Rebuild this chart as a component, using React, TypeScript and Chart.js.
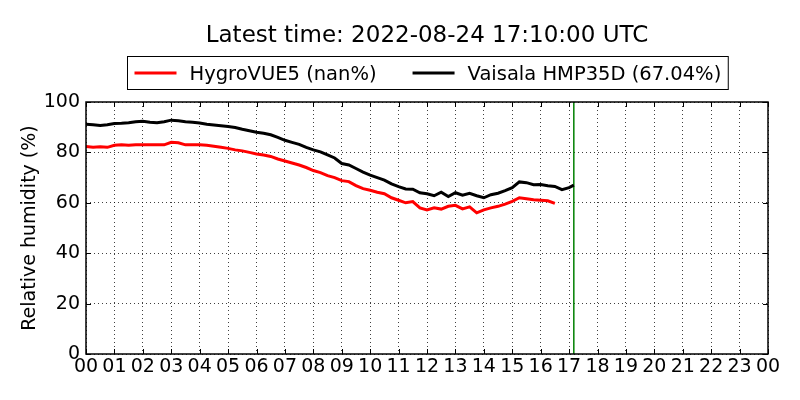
import { useEffect, useRef } from "react";
import { Chart, registerables } from "chart.js";

Chart.register(...registerables);

const TITLE = "Latest time: 2022-08-24 17:10:00 UTC";
const FONT = "'DejaVu Sans', 'Bitstream Vera Sans', sans-serif";

// x axis tick labels (hours of day)
const hourLabels = [
  "00", "01", "02", "03", "04", "05", "06", "07", "08", "09", "10", "11",
  "12", "13", "14", "15", "16", "17", "18", "19", "20", "21", "22", "23", "00",
];
const yTicks = [0, 20, 40, 60, 80, 100];

// sample times in hours (UTC)
const sampleHours = [
  0, 0.25, 0.5, 0.75, 1, 1.25, 1.5, 1.75, 2, 2.25, 2.5, 2.75,
  3, 3.25, 3.5, 3.75, 4, 4.25, 4.5, 4.75, 5, 5.25, 5.5, 5.75,
  6, 6.25, 6.5, 6.75, 7, 7.25, 7.5, 7.75, 8, 8.25, 8.5, 8.75,
  9, 9.25, 9.5, 9.75, 10, 10.25, 10.5, 10.75, 11, 11.25, 11.5, 11.75,
  12, 12.25, 12.5, 12.75, 13, 13.25, 13.5, 13.75, 14, 14.25, 14.5, 14.75,
  15, 15.25, 15.5, 15.75, 16, 16.25, 16.5, 16.75, 17, 17.1667,
];

// HygroVUE5 relative humidity (%) - stops at 16:30
const hygroRH = [
  82.3, 82.0, 82.2, 82.0, 82.8, 83.0, 82.8, 83.0, 83.0, 83.0, 83.0, 83.0,
  84.0, 83.8, 83.0, 83.0, 83.0, 82.8, 82.4, 82.0, 81.6, 81.0, 80.6, 80.0,
  79.4, 79.0, 78.4, 77.4, 76.6, 75.8, 75.0, 74.0, 72.8, 72.0, 70.8, 70.0,
  68.8, 68.4, 66.8, 65.6, 65.0, 64.2, 63.6, 62.0, 61.0, 60.0, 60.5, 58.0,
  57.2, 58.0, 57.5, 58.6, 59.0, 57.6, 58.4, 56.0, 57.2, 58.0, 58.6, 59.5,
  60.6, 62.0, 61.6, 61.2, 61.0, 60.8, 59.8,
];

// Vaisala HMP35D relative humidity (%)
const vaisalaRH = [
  91.2, 91.0, 90.7, 91.0, 91.5, 91.6, 91.8, 92.2, 92.4, 92.0, 91.8, 92.2,
  92.8, 92.6, 92.2, 92.0, 91.7, 91.2, 90.9, 90.6, 90.3, 89.9, 89.2, 88.6,
  88.0, 87.6, 87.0, 86.0, 84.8, 84.0, 83.2, 82.0, 81.0, 80.2, 79.0, 77.8,
  75.6, 75.0, 73.6, 72.2, 71.0, 70.0, 69.0, 67.5, 66.4, 65.5, 65.4, 64.0,
  63.6, 62.8, 64.2, 62.5, 64.0, 63.0, 63.8, 62.8, 62.0, 63.2, 63.8, 64.8,
  66.0, 68.3, 68.0, 67.2, 67.3, 66.8, 66.5, 65.2, 66.0, 67.0,
];

const latestHour = 17 + 10 / 60;

const seriesNames = ["HygroVUE5 (nan%)", "Vaisala HMP35D (67.04%)"];
const seriesColors = ["#ff0000", "#000000"];

const decorPlugin = {
  id: "decor",
  afterDraw(chart: any) {
    const { ctx, chartArea: a, scales } = chart;
    ctx.save();

    // inward ticks
    ctx.strokeStyle = "#000";
    ctx.lineWidth = 1;
    hourLabels.forEach((_, h) => {
      const x = Math.round(scales.x.getPixelForValue(h)) + 0.5;
      ctx.beginPath();
      ctx.moveTo(x, a.bottom);
      ctx.lineTo(x, a.bottom - 5);
      ctx.moveTo(x, a.top);
      ctx.lineTo(x, a.top + 5);
      ctx.stroke();
    });
    yTicks.forEach((v) => {
      const y = Math.round(scales.y.getPixelForValue(v)) + 0.5;
      ctx.beginPath();
      ctx.moveTo(a.left, y);
      ctx.lineTo(a.left + 5, y);
      ctx.moveTo(a.right, y);
      ctx.lineTo(a.right - 5, y);
      ctx.stroke();
    });

    // frame
    ctx.lineWidth = 1.5;
    ctx.strokeRect(a.left, a.top, a.right - a.left, a.bottom - a.top);

    // title
    const cx = (a.left + a.right) / 2;
    ctx.fillStyle = "#000";
    ctx.font = `23px ${FONT}`;
    ctx.textAlign = "center";
    ctx.textBaseline = "alphabetic";
    ctx.fillText(TITLE, cx, 42);

    // legend with border
    ctx.font = `19.5px ${FONT}`;
    const w0 = ctx.measureText(seriesNames[0]).width;
    const w1 = ctx.measureText(seriesNames[1]).width;
    const padL = 7, padR = 7, lineLen = 42, gap = 13, itemGap = 36;
    const total = padL + lineLen + gap + w0 + itemGap + lineLen + gap + w1 + padR;
    const bx = Math.round(cx - total / 2) + 0.5;
    const by = 56.5, bh = 33;
    ctx.fillStyle = "#fff";
    ctx.fillRect(bx, by, total, bh);
    ctx.lineWidth = 1;
    ctx.strokeStyle = "#000";
    ctx.strokeRect(bx, by, total, bh);
    const ly = by + bh / 2;
    let x = bx + padL;
    [w0, w1].forEach((w, i) => {
      ctx.strokeStyle = seriesColors[i];
      ctx.lineWidth = 3;
      ctx.beginPath();
      ctx.moveTo(x, ly);
      ctx.lineTo(x + lineLen, ly);
      ctx.stroke();
      x += lineLen + gap;
      ctx.fillStyle = "#000";
      ctx.textAlign = "left";
      ctx.fillText(seriesNames[i], x, ly + 7);
      x += w + itemGap;
    });

    ctx.restore();
  },
};

const App = () => {
  const canvasRef = useRef<HTMLCanvasElement>(null);

  useEffect(() => {
    if (!canvasRef.current) return;
    document.body.style.margin = "0";

    const chart = new Chart(canvasRef.current, {
      type: "line",
      data: {
        datasets: [
          {
            label: seriesNames[0],
            data: hygroRH.map((v, i) => ({ x: sampleHours[i], y: v })),
            borderColor: seriesColors[0],
            borderWidth: 3,
            pointRadius: 0,
            tension: 0,
          },
          {
            label: seriesNames[1],
            data: vaisalaRH.map((v, i) => ({ x: sampleHours[i], y: v })),
            borderColor: seriesColors[1],
            borderWidth: 3,
            pointRadius: 0,
            tension: 0,
          },
          {
            label: "latest",
            data: [
              { x: latestHour, y: 0 },
              { x: latestHour, y: 100 },
            ],
            borderColor: "#008000",
            borderWidth: 1.5,
            pointRadius: 0,
          },
        ],
      },
      options: {
        animation: false,
        responsive: true,
        maintainAspectRatio: false,
        layout: { padding: { top: 102, right: 32, left: 0, bottom: 0 } },
        plugins: {
          legend: { display: false },
          title: { display: false },
          tooltip: { enabled: false },
        },
        scales: {
          x: {
            type: "linear",
            min: 0,
            max: 24,
            afterFit: (s: any) => {
              s.height = 46;
            },
            ticks: {
              stepSize: 1,
              autoSkip: false,
              maxRotation: 0,
              padding: 2,
              color: "#000",
              font: { family: FONT, size: 19 },
              callback: (v: any) => hourLabels[v],
            },
            grid: { color: "rgba(0,0,0,0.75)", lineWidth: 1, drawTicks: false },
            border: { display: false, dash: [1, 3] },
          },
          y: {
            min: 0,
            max: 100,
            afterFit: (s: any) => {
              s.width = 86;
            },
            ticks: {
              stepSize: 20,
              padding: 6,
              color: "#000",
              font: { family: FONT, size: 19 },
            },
            title: {
              display: true,
              text: "Relative humidity (%)",
              color: "#000",
              font: { family: FONT, size: 19 },
              padding: { top: 19, bottom: 0 },
            },
            grid: { color: "rgba(0,0,0,0.75)", lineWidth: 1, drawTicks: false },
            border: { display: false, dash: [1, 3] },
          },
        },
      },
      plugins: [decorPlugin],
    });

    return () => chart.destroy();
  }, []);

  return (
    <div style={{ position: "relative", width: 800, height: 400, background: "#fff" }}>
      <canvas ref={canvasRef}></canvas>
    </div>
  );
};

export default App;
